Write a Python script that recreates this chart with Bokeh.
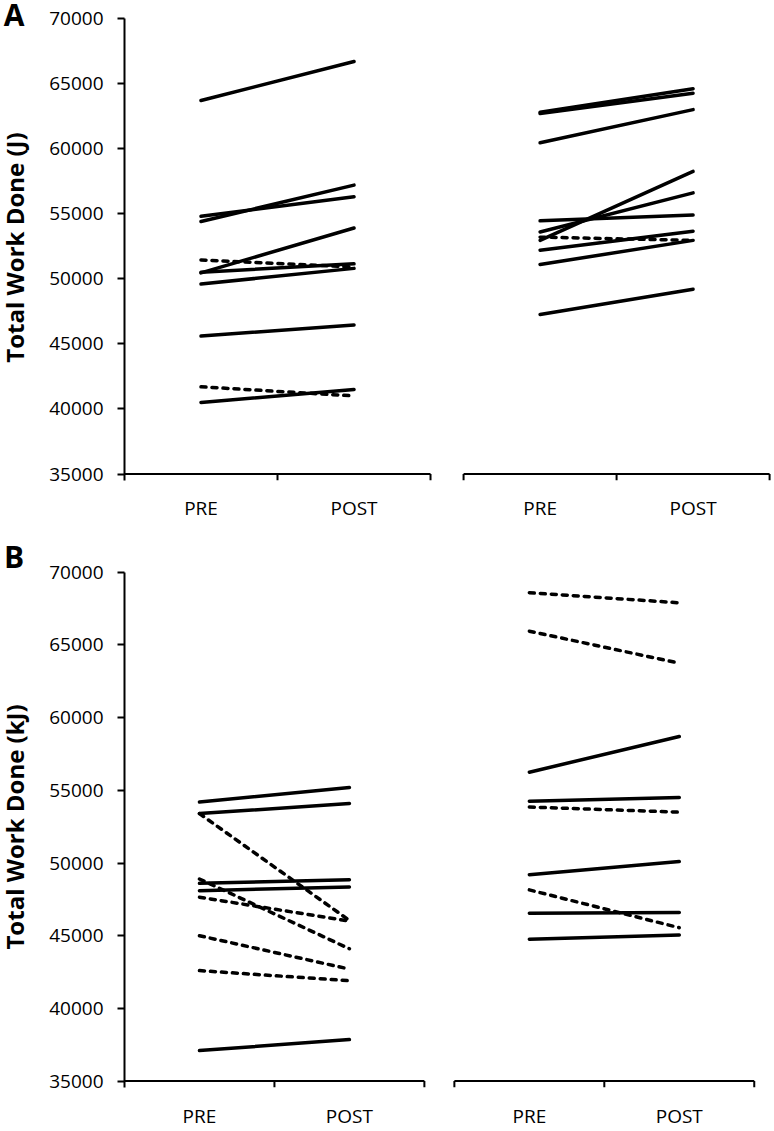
import math
from bokeh.plotting import figure
from bokeh.models import LinearAxis, FixedTicker, Range1d, ColumnDataSource
from bokeh.layouts import column, row
from bokeh.core.properties import value
from bokeh.embed import file_html
from bokeh.resources import INLINE

# ---------------- data ----------------
Y_TICKS = [35000, 40000, 45000, 50000, 55000, 60000, 65000, 70000]
TIME_LABELS = ["PRE", "POST"]

# Panel A (Total Work Done (J))
A1_PRE = [63700, 54800, 54400, 50450, 50500, 49600, 51450, 45600, 41700, 40500]
A1_POST = [66700, 56300, 57200, 53900, 51150, 50800, 50900, 46450, 41000, 41500]
A1_DASH = [0, 0, 0, 0, 0, 0, 1, 0, 1, 0]

A2_PRE = [62800, 62700, 60450, 54450, 53600, 52950, 53200, 52200, 51100, 47250]
A2_POST = [64600, 64250, 63000, 54900, 56600, 58250, 52950, 53650, 52950, 49200]
A2_DASH = [0, 0, 0, 0, 0, 0, 1, 0, 0, 0]

# Panel B (Total Work Done (kJ))
B1_PRE = [54200, 53400, 53400, 48600, 48100, 48900, 47650, 45000, 42600, 37100]
B1_POST = [55200, 54100, 46050, 48850, 48350, 44100, 46000, 42700, 41900, 37850]
B1_DASH = [0, 0, 1, 0, 0, 1, 1, 1, 1, 0]

B2_PRE = [68600, 65950, 56250, 54250, 53850, 49200, 48150, 46550, 44750]
B2_POST = [67900, 63750, 58700, 54500, 53500, 50100, 45550, 46600, 45050]
B2_DASH = [1, 1, 0, 0, 1, 0, 1, 0, 0]

FONT = "Open Sans"
STRIP_W = 30


def build_strip(letter, ytitle, fig_h, border_bottom, letter_cy, title_cy):
    # y measured upward from the bottom of the strip (frame is aligned with the panel's)
    s = figure(width=STRIP_W, height=fig_h, title=None,
               x_range=Range1d(0, STRIP_W), y_range=Range1d(border_bottom, fig_h),
               x_axis_type=None, y_axis_type=None, toolbar_location=None,
               output_backend="svg", min_border=0, min_border_bottom=border_bottom,
               outline_line_color=None,
               background_fill_color="white", border_fill_color="white")
    s.text(x=[13.5], y=[fig_h - letter_cy], text=[letter], text_font=value(FONT),
           text_font_style="bold", text_font_size="30px", text_color="black",
           text_align="center", text_baseline="middle")
    s.text(x=[14], y=[fig_h - title_cy], text=[ytitle], angle=math.pi / 2,
           text_font=value(FONT), text_font_style="bold", text_font_size="24px",
           text_color="black", text_align="center", text_baseline="middle")
    return s


def build_panel(groups, fig_h, top_px, border_bottom, px_per_unit, gap,
                xlab_standoff, fig_w=774 - STRIP_W, border_left=124 - STRIP_W,
                x_end=4.235):
    frame_w = px_per_unit * x_end
    border_right = int(round(fig_w - border_left - frame_w))
    frame_h = fig_h - border_bottom
    units_per_px = 35000.0 / (frame_h - top_px - 6.5)
    y_start = 35000 - 6.5 * units_per_px
    y_end = 70000 + top_px * units_per_px

    p = figure(width=fig_w, height=fig_h,
               x_range=Range1d(0, x_end), y_range=Range1d(y_start, y_end),
               x_axis_type=None, y_axis_type=None,
               toolbar_location=None, output_backend="svg",
               min_border_left=border_left, min_border_right=border_right,
               min_border_top=0, min_border_bottom=border_bottom,
               outline_line_color=None, background_fill_color="white",
               border_fill_color="white")

    starts = [0.0, 2.0 + gap]

    # subject lines
    for gi, (pre, post, dash) in enumerate(groups):
        s = starts[gi]
        for want_dash in (0, 1):
            idx = [i for i, d in enumerate(dash) if d == want_dash]
            if not idx:
                continue
            src = ColumnDataSource(dict(
                x0=[s + 0.5] * len(idx), x1=[s + 1.5] * len(idx),
                y0=[pre[i] for i in idx], y1=[post[i] for i in idx]))
            if want_dash:
                p.segment("x0", "y0", "x1", "y1", source=src, line_color="black",
                          line_width=3.5, line_dash="5 6", line_cap="round")
            else:
                p.segment("x0", "y0", "x1", "y1", source=src, line_color="black",
                          line_width=3.5, line_cap="round")

    # broken x axis line and its ticks
    p.segment(x0=[starts[0], starts[1]], y0=[35000, 35000],
              x1=[starts[0] + 2, starts[1] + 2], y1=[35000, 35000],
              line_color="black", line_width=2)
    tick_x = [starts[0] + 1, starts[0] + 2, starts[1], starts[1] + 1, starts[1] + 2]
    p.segment(x0=tick_x, y0=[35000] * len(tick_x), x1=tick_x,
              y1=[y_start] * len(tick_x), line_color="black", line_width=2)

    # category labels
    lab_x = [starts[0] + 0.5, starts[0] + 1.5, starts[1] + 0.5, starts[1] + 1.5]
    overrides = {lab_x[0]: TIME_LABELS[0], lab_x[1]: TIME_LABELS[1],
                 lab_x[2]: TIME_LABELS[0], lab_x[3]: TIME_LABELS[1]}
    xa = LinearAxis(ticker=FixedTicker(ticks=lab_x), major_label_overrides=overrides,
                    axis_line_color=None, major_tick_line_color=None,
                    minor_tick_line_color=None, major_tick_out=0, major_tick_in=0,
                    major_label_standoff=xlab_standoff, major_label_text_font=FONT,
                    major_label_text_font_size="19px", major_label_text_color="black")
    p.add_layout(xa, "below")

    # y axis (line runs from the 35000 tick down to the frame bottom, up to 70000)
    ya = LinearAxis(ticker=FixedTicker(ticks=Y_TICKS), bounds=(y_start, 70000),
                    axis_line_color="black", axis_line_width=2,
                    major_tick_line_color="black", major_tick_line_width=2,
                    major_tick_out=7, major_tick_in=0, minor_tick_line_color=None,
                    major_label_standoff=14, major_label_text_font=FONT,
                    major_label_text_font_size="19px", major_label_text_color="black")
    p.add_layout(ya, "left")
    return p


HA, HB = 540, 591
BBA, BBB = 60, 41
sA = build_strip("A", "Total Work Done (J)", HA, BBA, 14, 247)
pA = build_panel([(A1_PRE, A1_POST, A1_DASH), (A2_PRE, A2_POST, A2_DASH)],
                 fig_h=HA, top_px=18, border_bottom=BBA,
                 px_per_unit=153, gap=0.216, xlab_standoff=14)
sB = build_strip("B", "Total Work Done (kJ)", HB, BBB, 16, 288)
pB = build_panel([(B1_PRE, B1_POST, B1_DASH), (B2_PRE, B2_POST, B2_DASH)],
                 fig_h=HB, top_px=32, border_bottom=BBB,
                 px_per_unit=150, gap=0.2, xlab_standoff=15)

layout = column(row(sA, pA), row(sB, pB))
open("out.html", "w").write(file_html(layout, INLINE))
